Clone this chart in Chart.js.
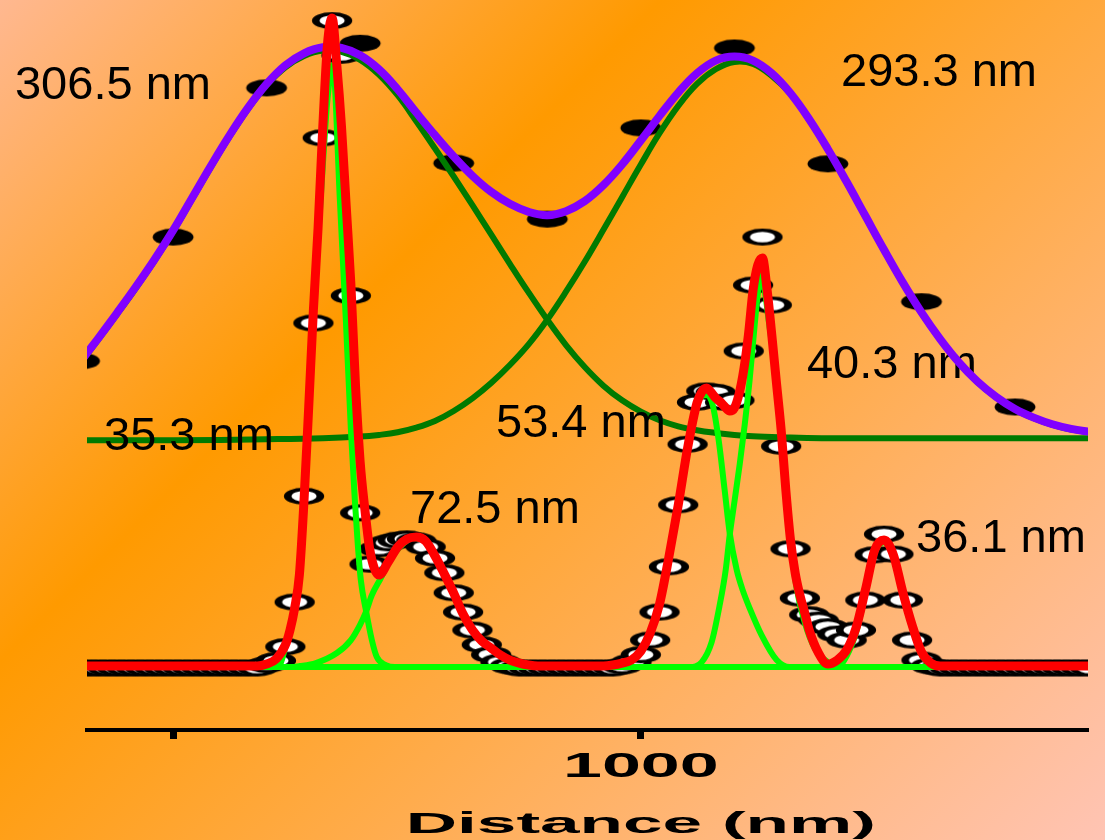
<!DOCTYPE html>
<html>
<head>
<meta charset="utf-8">
<title>Distance distribution</title>
<script src="https://cdn.jsdelivr.net/npm/chart.js@4.4.1/dist/chart.umd.min.js"></script>
<style>
  html, body { margin: 0; padding: 0; }
  body {
    width: 1105px; height: 840px; overflow: hidden;
    background: linear-gradient(135deg, #ffb890 0%, #ff9a00 34%, #ffc4b4 100%);
  }
  canvas { display: block; }
</style>
</head>
<body>
<canvas id="chart" width="1105" height="840"></canvas>
<script>
// x axis ticks (nm)
const tickValues = [500, 1000];
const tickLabels = ['', '1000'];

// upper trace: measured points (nm, intensity)
const broadX = [400, 500, 600, 700, 800, 900, 1000, 1100, 1200, 1300, 1400];
const broadY = [45.8, 64.4, 86.8, 93.5, 75.5, 67.1, 80.8, 92.8, 75.4, 54.7, 38.9];

// upper trace: fitted sum and the two components
const broadFit = [[400, 45.5], [408, 47.0], [420, 49.2], [440, 53.0], [460, 56.9], [480, 61.0], [500, 65.4],
  [520, 70.2], [540, 75.0], [560, 79.6], [580, 83.8], [600, 87.4], [620, 90.2], [640, 92.0], [660, 92.9],
  [680, 92.8], [700, 91.7], [720, 89.6], [740, 86.6], [760, 83.1], [780, 79.7], [800, 76.5], [820, 73.6],
  [840, 71.2], [860, 69.4], [880, 68.2], [900, 67.7], [920, 68.3], [940, 69.8], [960, 72.2], [980, 75.3],
  [1000, 78.9], [1020, 82.6], [1040, 86.1], [1060, 89.0], [1080, 90.9], [1100, 91.5], [1120, 90.9],
  [1140, 89.0], [1160, 86.0], [1180, 82.1], [1200, 77.6], [1220, 72.7], [1240, 67.6], [1260, 62.5],
  [1280, 57.6], [1300, 53.1], [1320, 49.1], [1340, 45.6], [1360, 42.7], [1380, 40.4], [1400, 38.6],
  [1420, 37.3], [1440, 36.3], [1460, 35.6], [1478, 35.2], [1490, 35.0]];
const broadPeak1 = [[400, 45.3], [408, 46.8], [420, 49.0], [440, 52.8], [460, 56.7], [480, 60.8], [500, 65.2],
  [520, 70.0], [540, 74.8], [560, 79.4], [580, 83.6], [600, 87.2], [620, 89.9], [640, 91.6], [660, 92.4],
  [680, 92.2], [700, 91.0], [720, 88.8], [740, 85.7], [760, 81.8], [780, 77.7], [800, 73.5], [820, 69.2],
  [840, 64.8], [860, 60.4], [880, 56.1], [900, 52.0], [920, 48.2], [940, 44.9], [960, 42.1], [980, 39.9],
  [1000, 38.2], [1020, 36.9], [1040, 36.0], [1060, 35.4], [1080, 35.0], [1100, 34.7], [1120, 34.5],
  [1140, 34.4], [1160, 34.3], [1200, 34.2], [1490, 34.2]];
const broadPeak2 = [[400, 33.9], [500, 33.9], [600, 34.05], [660, 34.2], [700, 34.45], [720, 34.7], [740, 35.1],
  [760, 35.8], [780, 36.8], [800, 38.3], [820, 40.2], [840, 42.5], [860, 45.2], [880, 48.3], [900, 52.0],
  [920, 56.2], [940, 60.7], [960, 65.5], [980, 70.4], [1000, 75.3], [1020, 80.0], [1040, 84.1], [1060, 87.4],
  [1080, 89.6], [1100, 90.7], [1120, 90.4], [1140, 88.6], [1160, 85.9], [1180, 82.0], [1200, 77.5],
  [1220, 72.6], [1240, 67.5], [1260, 62.4], [1280, 57.5], [1300, 53.0], [1320, 49.0], [1340, 45.5],
  [1360, 42.6], [1380, 40.3], [1400, 38.5], [1420, 37.2], [1440, 36.2], [1460, 35.5], [1490, 34.9]];

// lower trace: measured points every 10 nm
const narrowX = [400, 410, 420, 430, 440, 450, 460, 470, 480, 490, 500, 510, 520, 530, 540, 550, 560, 570, 580, 590,
  600, 610, 620, 630, 640, 650, 660, 670, 680, 690, 700, 710, 720, 730, 740, 750, 760, 770, 780, 790,
  800, 810, 820, 830, 840, 850, 860, 870, 880, 890, 900, 910, 920, 930, 940, 950, 960, 970, 980, 990,
  1000, 1010, 1020, 1030, 1040, 1050, 1060, 1070, 1080, 1090, 1100, 1110, 1120, 1130, 1140, 1150, 1160, 1170, 1180, 1190,
  1200, 1210, 1220, 1230, 1240, 1250, 1260, 1270, 1280, 1290, 1300, 1310, 1320, 1330, 1340, 1350, 1360, 1370, 1380, 1390,
  1400, 1410, 1420, 1430, 1440, 1450, 1460, 1470, 1480];
const narrowY = [-0.3, -0.3, -0.3, -0.3, -0.3, -0.3, -0.3, -0.3, -0.3, -0.3, -0.3, -0.3, -0.3, -0.3, -0.3, -0.3, -0.3, -0.3, -0.3, -0.3,
  0.2, 0.8, 2.9, 9.6, 25.5, 51.5, 79.3, 96.9, 91.7, 55.6, 23.0, 15.3, 17.6, 18.5, 18.9, 19.1, 18.8, 17.9, 16.2, 14.0,
  11.0, 8.1, 5.4, 3.2, 1.7, 0.6, 0, -0.3, -0.3, -0.3, -0.3, -0.3, -0.3, -0.3, -0.3, -0.3, -0.3, -0.3, 0, 0.6,
  1.7, 3.9, 8.1, 14.9, 24.2, 33.3, 39.6, 41.3, 41.1, 39.6, 39.9, 47.3, 57.2, 64.4, 54.2, 33.0, 17.6, 10.2, 7.7, 6.9,
  5.9, 4.8, 3.9, 5.4, 9.9, 16.7, 19.8, 16.8, 9.9, 3.9, 0.9, 0, -0.3, -0.3, -0.3, -0.3, -0.3, -0.3, -0.3, -0.3,
  -0.3, -0.3, -0.3, -0.3, -0.3, -0.3, -0.3, -0.3, -0.3];

// lower trace: fitted sum and its components
const narrowFit = [[400, 0], [590, 0], [600, 0.3], [610, 1.05], [620, 3.15], [625, 5.41], [630, 8.71], [635, 13.66],
  [640, 24.92], [645, 38.9], [650, 53.45], [655, 65.77], [660, 80.78], [665, 93.24], [670, 97.3], [675, 90.24],
  [680, 81.08], [685, 69.22], [690, 57.51], [695, 42.19], [700, 30.63], [705, 23.57], [710, 17.72], [715, 14.71],
  [720, 13.66], [730, 15.62], [740, 17.87], [750, 19.07], [760, 19.37], [770, 18.77], [780, 16.52], [790, 13.81],
  [800, 10.96], [810, 7.81], [820, 5.41], [830, 3.75], [840, 2.7], [850, 1.65], [860, 0.9], [870, 0.45], [880, 0.15],
  [890, 0], [960, 0], [970, 0.15], [980, 0.45], [990, 0.9], [1000, 2.25], [1010, 4.95], [1020, 9.31], [1030, 16.37],
  [1040, 24.17], [1050, 32.73], [1060, 39.49], [1065, 41.14], [1070, 41.74], [1075, 41.14], [1080, 40.24],
  [1085, 39.64], [1090, 38.89], [1095, 38.29], [1100, 38.74], [1105, 40.84], [1110, 44.44], [1115, 49.7],
  [1120, 56.46], [1125, 60.21], [1130, 61.26], [1135, 56.46], [1140, 49.7], [1145, 42.49], [1150, 35.44],
  [1155, 26.43], [1160, 18.92], [1165, 13.96], [1170, 10.66], [1175, 8.11], [1180, 5.41], [1190, 1.95],
  [1200, 0.3], [1210, 0.9], [1220, 2.4], [1230, 5.71], [1240, 11.41], [1250, 17.42], [1260, 18.92], [1270, 16.67],
  [1280, 11.11], [1290, 6.16], [1300, 2.1], [1310, 0.45], [1320, 0], [1490, 0]];
const narrowPeakA = [[400, -0.15], [604, -0.15], [614, 0.15], [620, 2.8], [625, 5.0], [630, 8.3], [635, 13.2],
  [640, 24.0], [645, 37.5], [650, 52.0], [655, 64.0], [660, 75.0], [665, 85.0], [670.8, 90.2], [678.3, 70.0],
  [684.7, 51.95], [690.1, 35.44], [694.3, 24.92], [697.5, 18.17], [700.7, 12.91], [706.1, 8.41], [712.5, 3.9],
  [717.8, 1.35], [727.4, 0.15], [737.1, -0.15], [1490, -0.15]];
const narrowPeakB = [[400, -0.15], [624.9, -0.15], [635.6, 0], [652.7, 0.45], [675.1, 1.95], [690.1, 3.9],
  [699.7, 6.16], [706.1, 8.11], [712.5, 10.66], [722.1, 13.21], [731.7, 15.92], [742.4, 17.87], [756.3, 19.22],
  [770, 18.6], [780, 16.3], [790, 13.6], [800, 10.8], [810, 7.7], [820, 5.3], [830, 3.6], [840, 2.6], [850, 1.5],
  [860, 0.8], [870, 0.35], [880, 0.05], [890, -0.15], [1490, -0.15]];
const narrowPeakC = [[400, -0.15], [966.8, -0.15], [979.6, 0.3], [990.3, 0.75], [999.9, 2.1], [1009.5, 4.8],
  [1020.2, 9.01], [1029.8, 15.92], [1039.4, 23.87], [1050.1, 32.43], [1059.7, 39.19], [1070.4, 40.69],
  [1076.8, 39.19], [1083.2, 33.93], [1089.6, 26.43], [1095.0, 19.97], [1102.4, 14.5], [1108.9, 11.4],
  [1116.3, 8.7], [1129.2, 4.6], [1145.2, 0.9], [1159.1, -0.15], [1490, -0.15]];
const narrowPeakD = [[400, -0.15], [1052.2, -0.15], [1065.1, 0.6], [1075.7, 3.6], [1084.3, 9.16], [1090.7, 14.41],
  [1095.0, 19.67], [1100.3, 24.92], [1105.6, 30.18], [1111.0, 36.19], [1116.3, 42.94], [1121.7, 51.2],
  [1124.9, 55.71], [1128.1, 58.71], [1132.4, 56.46], [1136.6, 51.95], [1140.9, 47.45], [1145.2, 42.19],
  [1151.6, 32.43], [1159.1, 19.97], [1166.5, 11.71], [1175.1, 6.61], [1185.8, 2.7], [1199.7, 0.6],
  [1212.5, -0.15], [1490, -0.15]];
const narrowPeakE = [[400, -0.15], [1210, -0.15], [1220, 1.5], [1230, 5.0], [1240, 10.9], [1250, 17.0],
  [1260, 18.6], [1270, 16.3], [1280, 10.7], [1290, 5.7], [1300, 1.7], [1310, 0.2], [1320, -0.15], [1490, -0.15]];

// peak width labels
const widthLabels = ['306.5 nm', '293.3 nm', '35.3 nm', '53.4 nm', '72.5 nm', '40.3 nm', '36.1 nm'];

// where each label starts (nm, intensity at text baseline)
const labelAnchors = [[331, 85.1], [1214, 87.1], [426.2, 32.4], [845.2, 34.4], [753.3, 21.5], [1177.6, 43.2], [1294.2, 17.1]];

const FONT = '"Liberation Sans", Arial, sans-serif';

const pairs = arr => arr.map(p => ({ x: p[0], y: p[1] }));
const zipXY = (xs, ys) => xs.map((x, i) => ({ x, y: ys[i] }));

// markers in the original are circles squashed sideways into ellipses
function ellipseMarker(fill, stroke, r, lw) {
  const sx = 2.4;
  const c = document.createElement('canvas');
  const h = Math.ceil(2 * r + lw) + 2;
  const w = Math.ceil(h * sx) + 2;
  c.width = w;
  c.height = h;
  const g = c.getContext('2d');
  g.translate(w / 2, h / 2);
  g.scale(sx, 1);
  g.beginPath();
  g.arc(0, 0, r, 0, Math.PI * 2);
  g.fillStyle = fill;
  g.fill();
  if (lw) {
    g.lineWidth = lw;
    g.strokeStyle = stroke;
    g.stroke();
  }
  return c;
}
const blackDot = ellipseMarker('#000', null, 8.5, 0);
const whiteDot = ellipseMarker('#fff', '#000', 6.8, 3.2);

function curve(data, color, width, order, smooth) {
  return {
    data: pairs(data),
    showLine: true,
    borderColor: color,
    borderWidth: width,
    borderJoinStyle: 'round',
    borderCapStyle: 'round',
    cubicInterpolationMode: smooth ? 'default' : 'monotone',
    tension: 0.4,
    pointRadius: 0,
    order: order
  };
}

// the axis text in the original is stretched horizontally
const stretchAxisText = {
  id: 'stretchAxisText',
  beforeDraw(chart) {
    const axis = chart.scales.x;
    if (axis._stretched) return;
    axis._stretched = true;
    const drawLabels = axis.drawLabels;
    const drawTitle = axis.drawTitle;
    axis.drawLabels = function (area) {
      const ctx = this.ctx;
      const cx = this.getPixelForValue(1000);
      ctx.save();
      ctx.translate(cx, 0);
      ctx.scale(2.0, 1);
      ctx.translate(-cx, 0);
      drawLabels.call(this, area);
      ctx.restore();
    };
    axis.drawTitle = function () {
      const ctx = this.ctx;
      const cx = this.getPixelForValue(1000);
      const mid = (this.left + this.right) / 2;
      ctx.save();
      ctx.translate(cx, 0);
      ctx.scale(2.37, 1);
      ctx.translate(-mid, 0);
      drawTitle.call(this);
      ctx.restore();
    };
  }
};

// width labels sit above the dark green components, below the rest
const peakLabels = {
  id: 'peakLabels',
  afterDatasetDraw(chart, args) {
    if (!chart.data.datasets[args.index].labelsAfter) return;
    const { ctx, scales: { x, y } } = chart;
    ctx.save();
    ctx.font = '47px ' + FONT;
    ctx.fillStyle = '#000';
    ctx.textAlign = 'left';
    ctx.textBaseline = 'alphabetic';
    widthLabels.forEach((t, i) => {
      ctx.fillText(t, x.getPixelForValue(labelAnchors[i][0]), y.getPixelForValue(labelAnchors[i][1]));
    });
    ctx.restore();
  }
};

const peak1 = curve(broadPeak1, '#007a00', 6, 3, true);
peak1.labelsAfter = true;

new Chart(document.getElementById('chart'), {
  type: 'scatter',
  data: {
    datasets: [
      curve(narrowFit, '#ff0000', 9, 0),
      curve(narrowPeakA, '#00ff00', 6, 1),
      curve(narrowPeakB, '#00ff00', 6, 1),
      curve(narrowPeakC, '#00ff00', 6, 1),
      curve(narrowPeakD, '#00ff00', 6, 1),
      curve(narrowPeakE, '#00ff00', 6, 1),
      curve(broadFit, '#8000ff', 8, 2, true),
      peak1,
      curve(broadPeak2, '#007a00', 6, 4, true),
      {
        data: zipXY(broadX, broadY),
        pointStyle: blackDot,
        pointRadius: 8,
        order: 5
      },
      {
        data: zipXY(narrowX, narrowY),
        pointStyle: whiteDot,
        pointRadius: 8,
        order: 6
      }
    ]
  },
  options: {
    responsive: false,
    devicePixelRatio: 1,
    animation: false,
    events: [],
    layout: { autoPadding: false, padding: { left: 87, right: 17, top: 0, bottom: 0 } },
    plugins: {
      legend: { display: false },
      tooltip: { enabled: false }
    },
    scales: {
      x: {
        type: 'linear',
        min: 408,
        max: 1478,
        afterBuildTicks: axis => { axis.ticks = tickValues.map(v => ({ value: v })); },
        afterFit: axis => { axis.height = 110; },
        ticks: {
          autoSkip: false,
          maxRotation: 0,
          padding: 11,
          color: '#000',
          font: { family: FONT, size: 35, weight: 'bold', lineHeight: 1 },
          callback: value => tickLabels[tickValues.indexOf(value)]
        },
        grid: {
          display: true,
          drawOnChartArea: false,
          drawTicks: true,
          tickLength: 9,
          tickWidth: 7,
          tickColor: '#000'
        },
        border: { display: true, color: '#000', width: 4 },
        title: {
          display: true,
          text: 'Distance (nm)',
          color: '#000',
          font: { family: FONT, size: 30, weight: 'bold', lineHeight: 1 },
          padding: { top: 0, bottom: 0 }
        }
      },
      y: {
        type: 'linear',
        display: false,
        min: -9.6,
        max: 100
      }
    }
  },
  plugins: [stretchAxisText, peakLabels]
});
</script>
</body>
</html>
